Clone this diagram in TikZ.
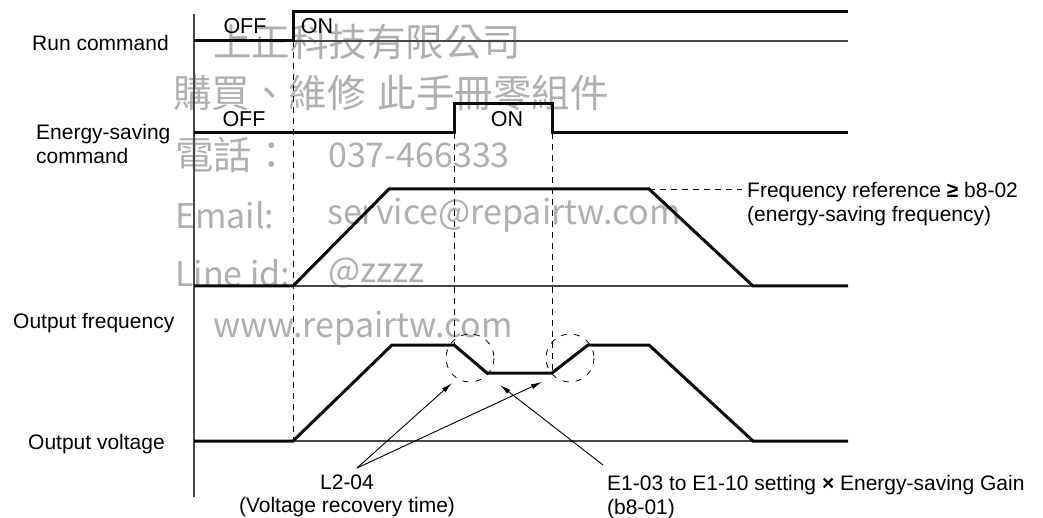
\documentclass[tikz,border=0pt]{standalone}
\usepackage{fontspec}
\setmainfont{Liberation Sans}
\newfontfamily\cjk{Noto Sans CJK TC}
\usetikzlibrary{arrows.meta}
\definecolor{sigblack}{RGB}{10, 10, 10}
\definecolor{basegray}{RGB}{70, 70, 70}
\definecolor{wmgray}{RGB}{175, 175, 175}

\begin{document}
\begin{tikzpicture}[x=1pt, y=-1pt, font=\fontsize{21}{23.5}\selectfont]
\tikzset{
  sig/.style={sigblack, line width=3pt, line join=miter},
  base/.style={basegray, line width=1.3pt},
  guide/.style={black, line width=0.9pt, dash pattern=on 6pt off 5pt},
  ring/.style={black, line width=0.8pt, dash pattern=on 6pt off 7pt},
  lbl/.style={anchor=west, inner sep=0, align=left},
  state/.style={anchor=center, inner sep=0, font=\fontsize{21.5}{22}\selectfont},
  wm/.style={anchor=west, inner sep=0, text=wmgray, font=\cjk\fontsize{34}{34}\selectfont},
  wmh/.style={wm, font=\cjk\fontsize{38.5}{39}\selectfont},
  pointer/.style={black, line width=0.9pt, -{Latex[length=11pt, width=5pt]}}
}
\useasboundingbox (0, 0) rectangle (1043, 518);

% watermark
\node[wmh] (wm1) at (213, 42) {上正科技有限公司};
\node[wmh] (wm2) at (173, 93) {購買、維修\hspace{12pt}此手冊零組件};
\node[wmh] (wm3) at (175, 155) {電話：};
\node[wm] (wm3b) at (328, 155) {037-466333};
\node[wm] (wm4) at (175, 215) {Email:};
\node[wm] (wm4b) at (327, 215) {service@repairtw.com};
\node[wm] (wm5) at (175, 273) {Line id:};
\node[wm] (wm5b) at (328, 273) {@zzzz};
\node[wm] (wm6) at (213, 328) {www.repairtw.com};

% axis and baselines
\draw[base] (194, 14) -- (194, 497);
\draw[base] (194, 41) -- (848, 41);
\draw[base] (194, 286) -- (848, 286);
\draw[base] (194, 441) -- (848, 441);

% guides
\draw[guide] (293, 41) -- (293, 441);
\draw[guide] (454, 133) -- (454, 345);
\draw[guide] (552, 133) -- (552, 373);
\draw[guide] (649, 189) -- (742, 189);
\draw[ring] (470, 358) circle (24);
\draw[ring] (570, 358) circle (24);

% signals
\draw[sig] (194, 41) -- (293, 41) -- (293, 12) -- (848, 12);
\draw[sig] (194, 133) -- (454, 133) -- (454, 104) -- (552, 104) -- (552, 133) -- (848, 133);
\draw[sig] (194, 286) -- (293, 286) -- (389, 189) -- (649, 189) -- (753, 286) -- (848, 286);
\draw[sig] (194, 441) -- (293, 441) -- (392, 345) -- (454, 345) -- (487, 373)
  -- (552, 373) -- (588, 345) -- (649, 345) -- (753, 441) -- (848, 441);

% row labels
\node[lbl] (runlbl) at (32, 43) {Run command};
\node[lbl] (esclbl) at (36, 144) {Energy-saving\\command};
\node[lbl] (freqlbl) at (13, 323) {Output frequency};
\node[lbl] (voltlbl) at (28, 444) {Output voltage};

\node[state] (runoff) at (245, 26) {OFF};
\node[state] (runon) at (317, 26) {ON};
\node[state] (esoff) at (244, 119) {OFF};
\node[state] (eson) at (507, 119) {ON};

\node[lbl] (freqref) at (747, 204) {Frequency reference {\bfseries ≥} b8-02\\(energy-saving frequency)};
\node[inner sep=0, align=center] (l2lbl) at (347, 496) {L2-04\\(Voltage recovery time)};
\node[lbl] (gainlbl) at (607, 497) {E1-03 to E1-10 setting {\bfseries ×} Energy-saving Gain\\(b8-01)};

% pointers
\coordinate (l2from) at (357, 468);
\coordinate (dropring) at (452, 383);
\coordinate (risering) at (542, 382);
\coordinate (gainfrom) at (603, 465);
\coordinate (lowflat) at (500, 385);
\draw[pointer] (l2from) -- (dropring);
\draw[pointer] (l2from) -- (risering);
\draw[pointer] (gainfrom) -- (lowflat);
\end{tikzpicture}
\end{document}
